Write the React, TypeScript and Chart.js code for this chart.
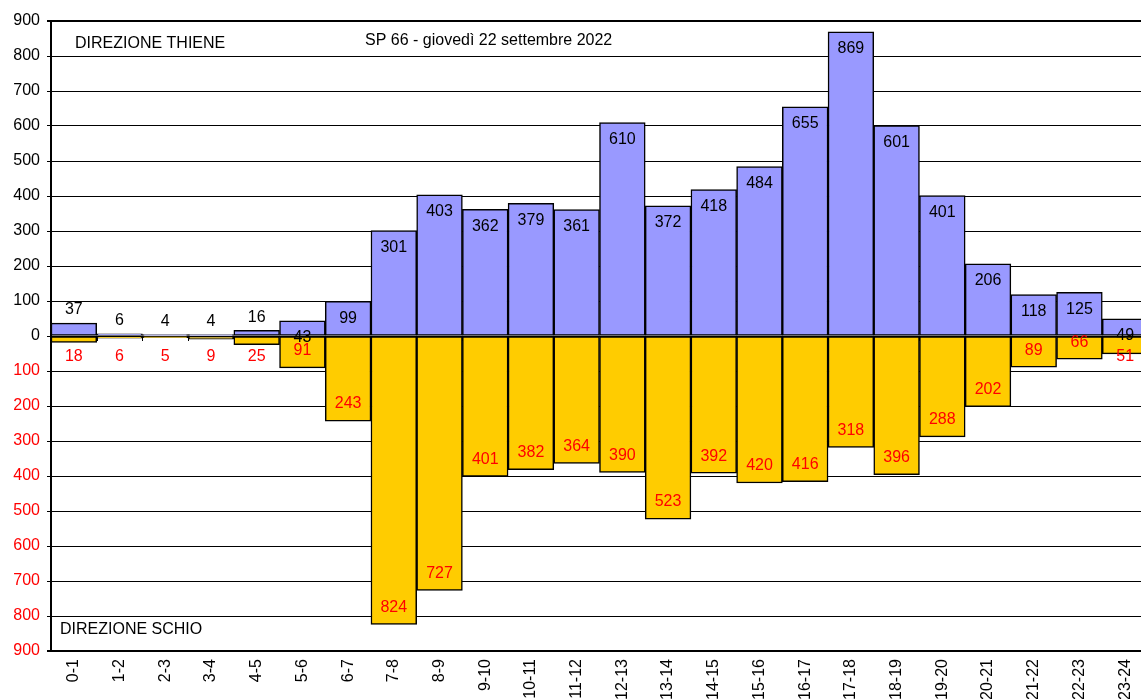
import React, { useEffect, useRef } from "react";
import { Chart, registerables } from "chart.js";

Chart.register(...registerables);

const categories = [
  "0-1", "1-2", "2-3", "3-4", "4-5", "5-6", "6-7", "7-8", "8-9", "9-10", "10-11", "11-12",
  "12-13", "13-14", "14-15", "15-16", "16-17", "17-18", "18-19", "19-20", "20-21", "21-22", "22-23", "23-24",
];
const thieneValues = [37, 6, 4, 4, 16, 43, 99, 301, 403, 362, 379, 361, 610, 372, 418, 484, 655, 869, 601, 401, 206, 118, 125, 49];
const schioValues = [18, 6, 5, 9, 25, 91, 243, 824, 727, 401, 382, 364, 390, 523, 392, 420, 416, 318, 396, 288, 202, 89, 66, 51];

const titleText = "SP 66 - giovedì 22 settembre 2022";
const topLabel = "DIREZIONE THIENE";
const bottomLabel = "DIREZIONE SCHIO";

const FONT = '"Liberation Sans", Arial, sans-serif';

const labelPlugin = {
  id: "labels",
  beforeDatasetsDraw(chart: any) {
    const ctx = chart.ctx;
    const x = chart.scales.x;
    const y = chart.scales.y;
    const zero = y.getPixelForValue(0);
    ctx.save();
    ctx.strokeStyle = "#000";
    ctx.lineWidth = 1;
    for (let i = 0; i <= categories.length; i++) {
      const px = Math.round(x.getPixelForValue(i - 0.5)) + 0.5;
      ctx.beginPath();
      ctx.moveTo(px, zero);
      ctx.lineTo(px, zero + 5);
      ctx.stroke();
    }
    ctx.restore();
  },
  afterDatasetsDraw(chart: any) {
    const ctx = chart.ctx;
    const zero = chart.scales.y.getPixelForValue(0);
    ctx.save();
    ctx.font = `16px ${FONT}`;
    ctx.textAlign = "center";
    ctx.textBaseline = "middle";
    const posMeta = chart.getDatasetMeta(0);
    const negMeta = chart.getDatasetMeta(1);
    thieneValues.forEach((v, i) => {
      const el = posMeta.data[i];
      const top = el.y;
      const ly = v >= 40 ? top + 17 : top - 13;
      ctx.fillStyle = "#000";
      ctx.fillText(String(v), el.x, ly);
    });
    schioValues.forEach((v, i) => {
      const el = negMeta.data[i];
      const bottom = el.y;
      const ly = v >= 60 ? bottom - 17 : zero + 21;
      ctx.fillStyle = "#FF0000";
      ctx.fillText(String(v), el.x, ly);
    });
    // annotations
    const a = chart.chartArea;
    ctx.fillStyle = "#000";
    ctx.textAlign = "left";
    ctx.fillText(topLabel, a.left + 24, a.top + 23);
    ctx.fillText(bottomLabel, a.left + 9, a.bottom - 21);
    ctx.fillText(titleText, 365, a.top + 20);
    ctx.restore();
  },
};

export default function App() {
  const ref = useRef<HTMLCanvasElement>(null);
  useEffect(() => {
    document.body.style.margin = "0";
    document.body.style.overflow = "hidden";
    const chart = new Chart(ref.current!, {
      type: "bar",
      data: {
        labels: categories,
        datasets: [
          {
            label: "Thiene",
            data: thieneValues,
            backgroundColor: "#9999FF",
            borderColor: "#000",
            borderWidth: 1.5,
            borderSkipped: false,
            categoryPercentage: 1,
            barPercentage: 1,
          },
          {
            label: "Schio",
            data: schioValues.map((v) => -v),
            backgroundColor: "#FFCC00",
            borderColor: "#000",
            borderWidth: 1.5,
            borderSkipped: false,
            categoryPercentage: 1,
            barPercentage: 1,
          },
        ],
      },
      options: {
        responsive: false,
        animation: false,
        layout: { padding: { top: 21, right: 12, left: 0, bottom: 0 } },
        plugins: { legend: { display: false }, tooltip: { enabled: false }, title: { display: false } },
        scales: {
          x: {
            stacked: true,
            grid: { display: false, drawTicks: false },
            border: { display: true, color: "#000", width: 2 },
            ticks: {
              color: "#000",
              font: { family: FONT, size: 16 },
              minRotation: 90,
              maxRotation: 90,
              autoSkip: false,
              padding: 8,
            },
            afterFit: (s: any) => {
              s.height = 48;
            },
          },
          y: {
            stacked: true,
            min: -900,
            max: 900,
            grid: {
              color: "#000",
              lineWidth: (c: any) => (c.tick && Math.abs(c.tick.value) === 900 ? 2 : 1),
              tickLength: 4,
              drawTicks: true,
            },
            border: { display: true, color: "#000", width: 2 },
            ticks: {
              stepSize: 100,
              padding: 7,
              font: { family: FONT, size: 16 },
              color: (c: any) => (c.tick && c.tick.value < 0 ? "#FF0000" : "#000"),
              callback: (v: any) => String(Math.abs(Number(v))),
            },
            afterFit: (s: any) => {
              s.width = 51;
            },
          },
        },
      },
      plugins: [labelPlugin],
    });
    return () => chart.destroy();
  }, []);
  return (
    <div style={{ position: "fixed", left: 0, top: 0, width: 1141, height: 699, overflow: "hidden", background: "#fff" }}>
      <canvas ref={ref} width={1160} height={699} style={{ display: "block" }} />
    </div>
  );
}
